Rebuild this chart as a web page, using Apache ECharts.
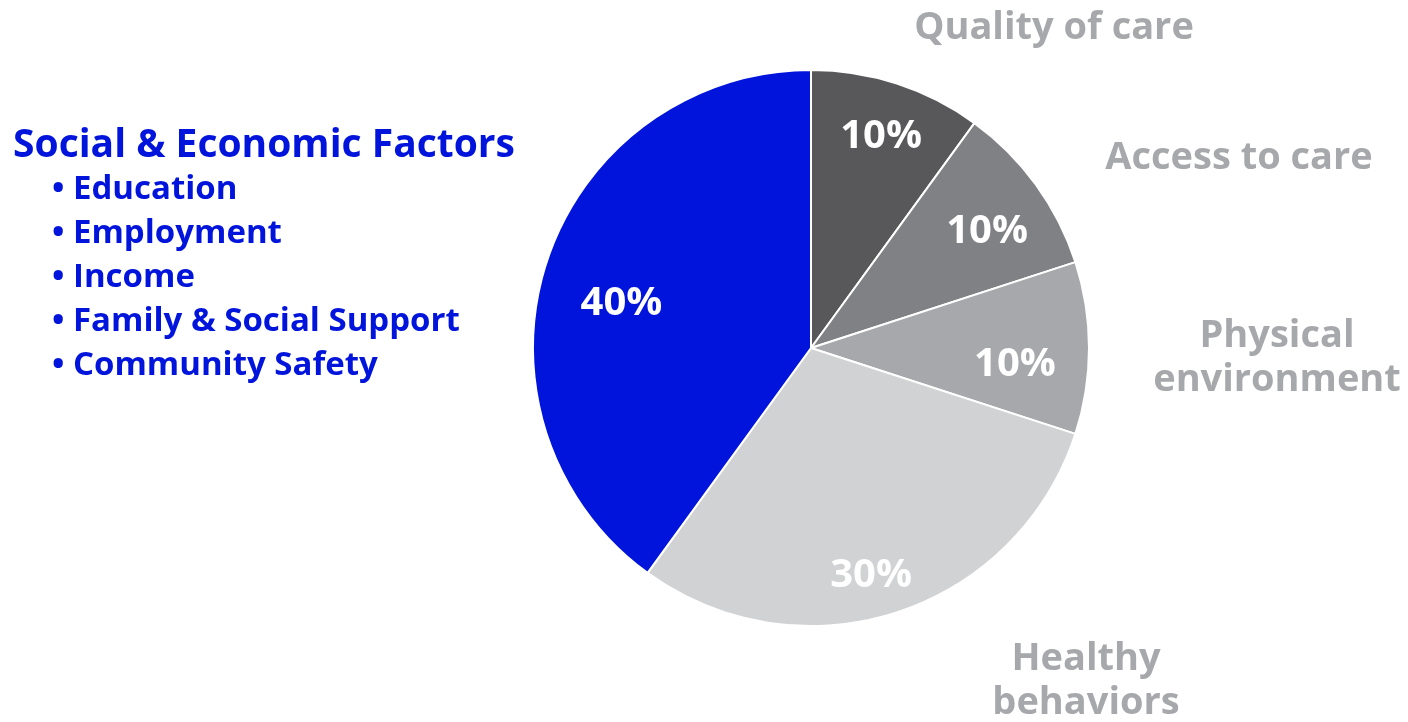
<!DOCTYPE html>
<html>
<head>
<meta charset="utf-8">
<script src="https://cdn.jsdelivr.net/npm/echarts@6/dist/echarts.min.js"></script>
<style>
  html, body { margin: 0; padding: 0; background: #fff; }
  #chart { width: 1408px; height: 722px; }
</style>
</head>
<body>
<div id="chart"></div>
<script>
// Health outcome drivers, clockwise from 12 o'clock
const categories = ["Quality of care", "Access to care", "Physical environment", "Healthy behaviors", "Social & Economic Factors"];
const shares = [10, 10, 10, 30, 40];
const sliceColors = ["#58585a", "#808184", "#a7a8ab", "#d1d2d4", "#0014dc"];
const socialFactors = ["Education", "Employment", "Income", "Family & Social Support", "Community Safety"];

// where each category name sits around the pie
const namePos = [
  { x: 1054, y: 28, align: "center", verticalAlign: "middle" },
  { x: 1239, y: 158, align: "center", verticalAlign: "middle" },
  { x: 1277, y: 358, align: "center", verticalAlign: "middle" },
  { x: 1086, y: 681, align: "center", verticalAlign: "middle" },
  { x: 13, y: 123, align: "left", verticalAlign: "top" },
];
// small nudges for the percentage labels
const pctNudge = [
  { dx: 4, dy: -8 },
  { dx: 3, dy: 9 },
  { dx: -10, dy: 17 },
  { dx: -6, dy: 24 },
  { dx: 14, dy: 22 },
];

const FONT = "'Open Sans', 'Noto Sans', sans-serif";
const CENTER = [811, 348];
const R = 278;

const data = categories.map((name, i) => ({ name, value: shares[i], itemStyle: { color: sliceColors[i] } }));

const chart = echarts.init(document.getElementById("chart"), null, { renderer: "canvas" });
chart.setOption({
  animation: false,
  series: [
    {
      // the pie itself + category names outside
      type: "pie",
      center: CENTER,
      radius: [0, R],
      startAngle: 90,
      clockwise: true,
      silent: true,
      itemStyle: { borderColor: "#fff", borderWidth: 2 },
      labelLine: { show: false },
      label: {
        show: true,
        position: "outside",
        overflow: "none",
        fontFamily: FONT,
        fontWeight: "bold",
        fontSize: 38,
        lineHeight: 44,
        color: "#a7a8ab",
        formatter: (p) => {
          if (p.dataIndex === 4) {
            return "{t|" + p.name + "}\n" + socialFactors.map((f) => "{b|• " + f + "}").join("\n");
          }
          if (p.name === "Physical environment") return "Physical\nenvironment";
          if (p.name === "Healthy behaviors") return "Healthy\nbehaviors";
          return p.name;
        },
        rich: {
          t: { fontFamily: FONT, fontWeight: "bold", fontSize: 39, lineHeight: 45, color: "#0014dc" },
          b: { fontFamily: FONT, fontWeight: "bold", fontSize: 33, lineHeight: 44, color: "#0014dc", padding: [0, 0, 0, 39] },
        },
      },
      labelLayout: (p) => namePos[p.dataIndex],
      data: data,
    },
    {
      // percentage labels, placed on a ring so they sit toward the rim
      type: "pie",
      center: CENTER,
      radius: [144, R],
      startAngle: 90,
      clockwise: true,
      silent: true,
      itemStyle: { color: "rgba(0,0,0,0)", borderWidth: 0 },
      labelLine: { show: false },
      label: {
        show: true,
        position: "inside",
        fontFamily: FONT,
        fontWeight: "bold",
        fontSize: 40,
        color: "#fff",
        formatter: "{c}%",
      },
      labelLayout: (p) => pctNudge[p.dataIndex],
      data: categories.map((name, i) => ({ name, value: shares[i] })),
    },
  ],
});
</script>
</body>
</html>
